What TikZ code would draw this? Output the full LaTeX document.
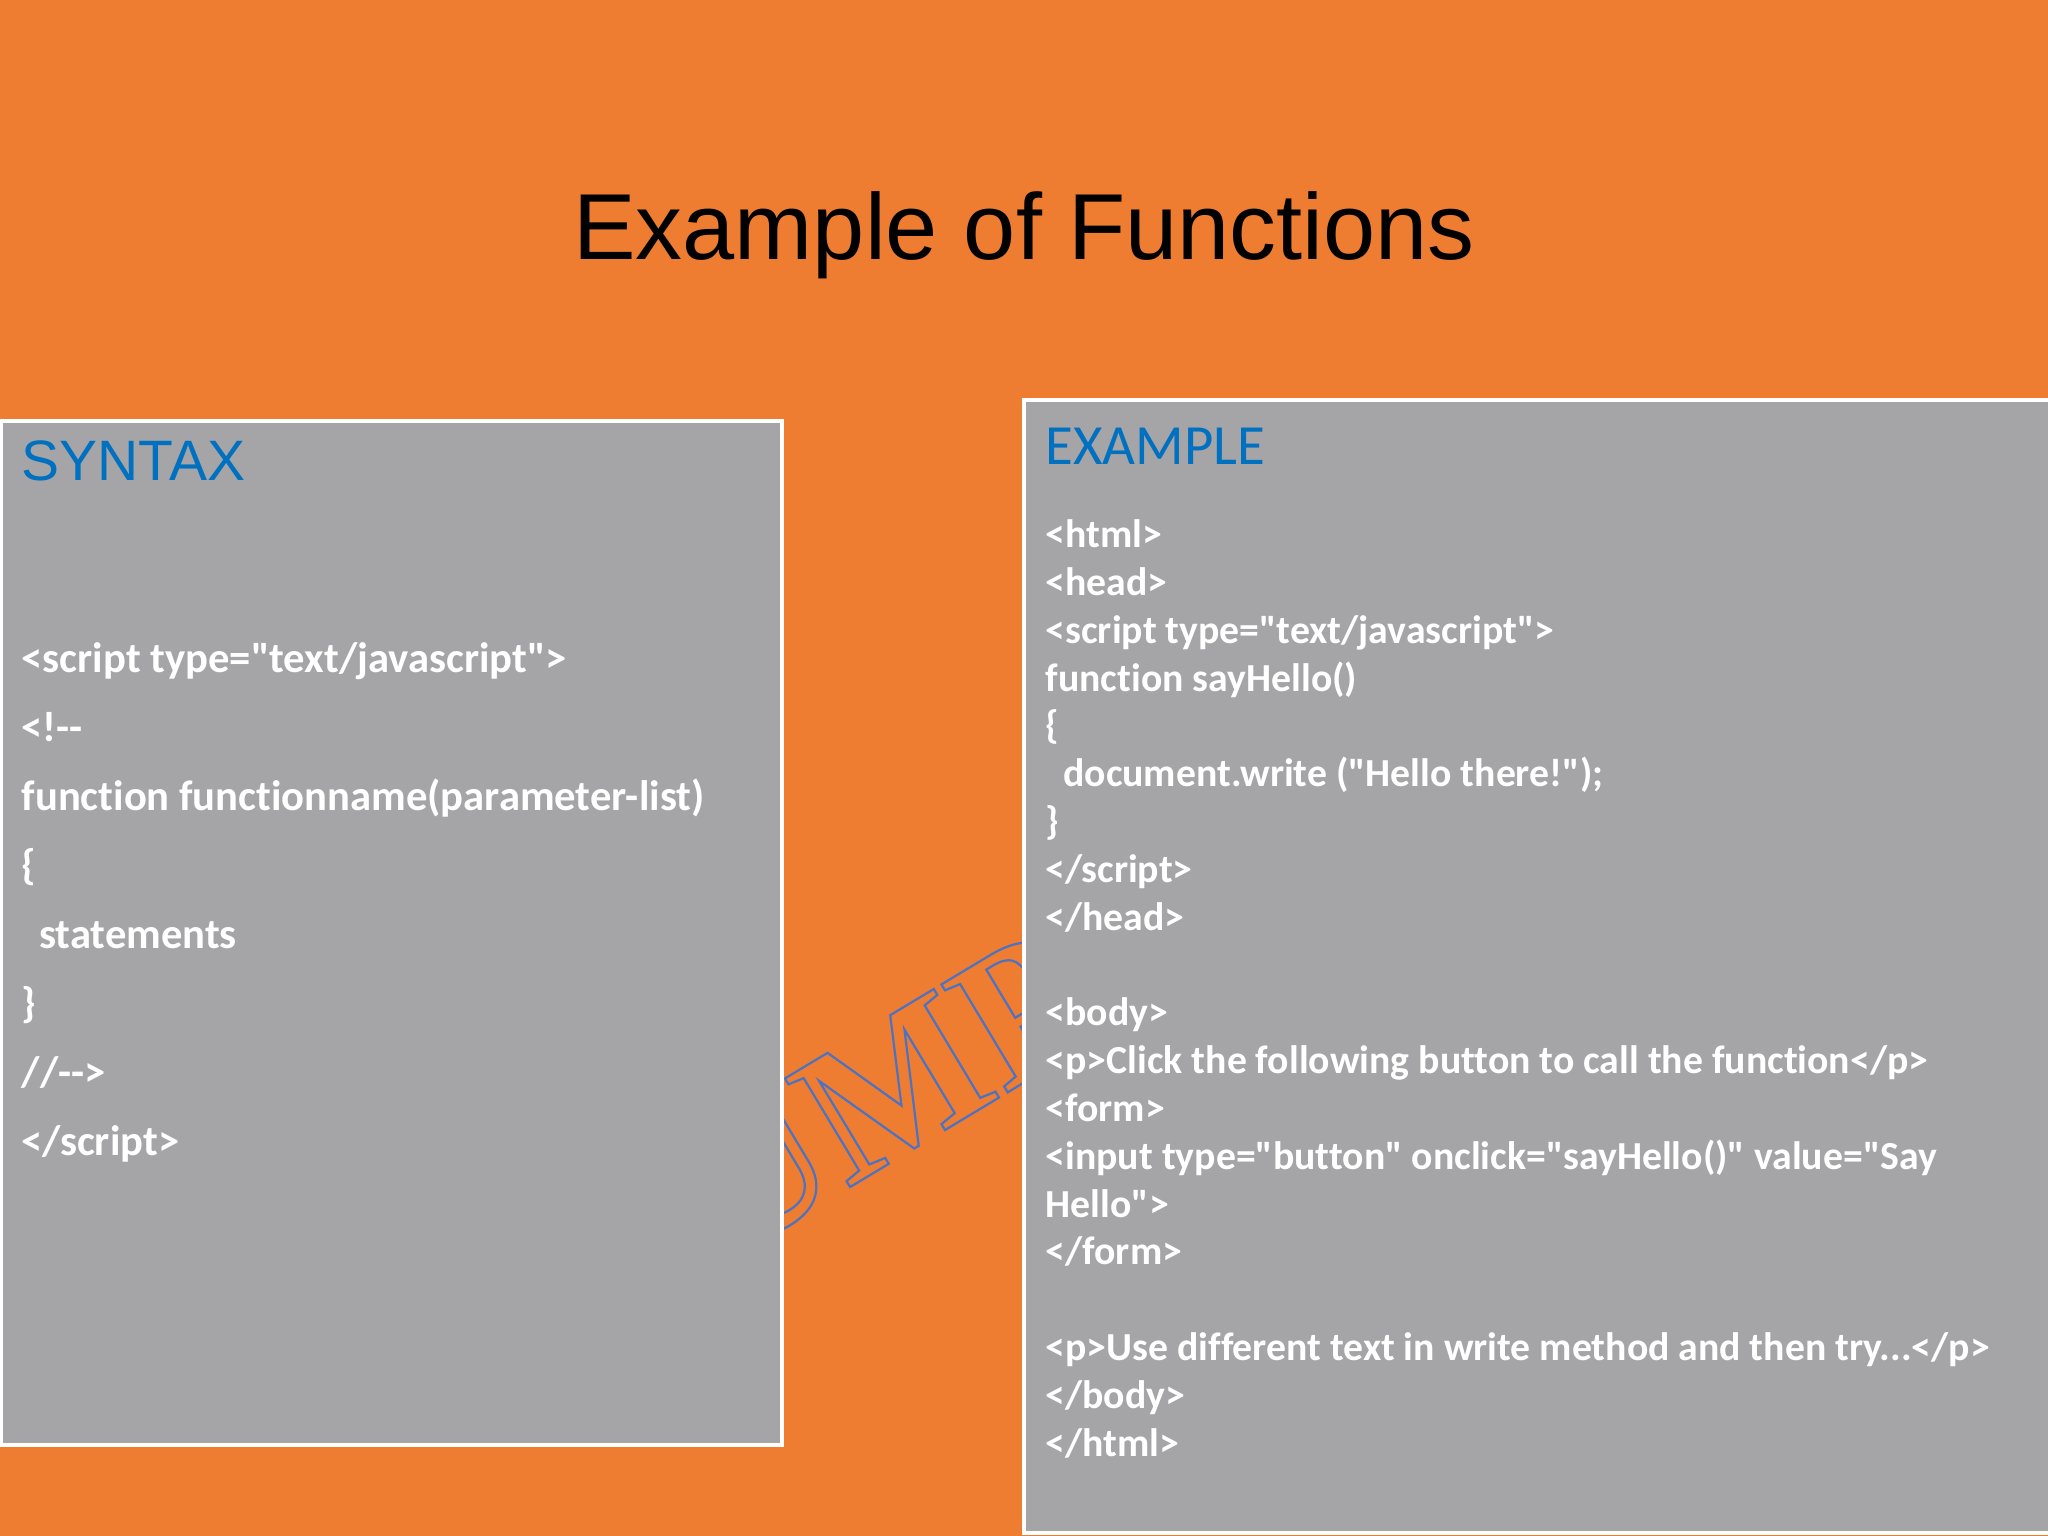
\documentclass[tikz,border=0pt]{standalone}
\usepackage{fontspec}
\setmainfont{Liberation Sans}
\newfontfamily\codefont[Ligatures=NoCommon]{Carlito}
\newfontfamily\markfont{Liberation Serif}
\usepackage{tikz}
\definecolor{slideorange}{HTML}{EE7C31}
\definecolor{panelgray}{HTML}{A5A4A6}
\definecolor{headblue}{HTML}{0070C0}
\tikzset{
	panel/.style={draw=white,line width=1.3pt,fill=panelgray},
	codetext/.style={anchor=north west,align=left,inner sep=0pt,text=white},
}
\begin{document}
\begin{tikzpicture}[x=0.01cm,y=-0.01cm]
		\useasboundingbox (0,0) rectangle (2048,1536);
		\fill[slideorange] (0,0) rectangle (2048,1536);
		\node (title) at (1024,235) {\fontsize{26.65}{31}\selectfont Example of Functions};
		% only the middle of the mark shows between the panels
		\node[rotate=31,anchor=base west,inner sep=0pt] (mark) at (727,1261) {\markfont\bfseries\fontsize{55}{60}\selectfont
			\special{pdf:code 1 Tr 0.62 w 0.29 0.45 0.77 RG}UMP\special{pdf:code 0 Tr 0 0 0 RG}};
		\draw[panel] (1,421) rectangle (782,1445);
		\draw[panel] (1024,400) rectangle (2060,1533);
		\node[anchor=base west,inner sep=0pt,text=headblue] (syntaxhead) at (21,480) {\fontsize{16.2}{20}\selectfont SYNTAX};
		\node[anchor=base west,inner sep=0pt,text=headblue] (examplehead) at (1045,464) {\codefont\fontsize{16.15}{18}\selectfont EXAMPLE};
		\node[codetext,font=\codefont\bfseries\fontsize{12.12}{19.6}\selectfont] (syntaxcode) at (21,642) {
			<script type="text/javascript">\\
			<!-{}-\\
			function functionname(parameter-list)\\
			\{\\
			\hspace*{5pt}statements\\
			\}\\
			//-{}->\\
			</script>};
		\node[codetext,font=\codefont\bfseries\fontsize{11.3}{13.6}\selectfont] (examplecode) at (1045,519) {
			<html>\\
			<head>\\
			<script type="text/javascript">\\
			function sayHello()\\
			\{\\
			\hspace*{5pt}document.write ("Hello there!");\\
			\}\\
			</script>\\
			</head>\\
			\mbox{}\\
			<body>\\
			<p>Click the following button to call the function</p>\\
			<form>\\
			<input type="button" onclick="sayHello()" value="Say\\
			Hello">\\
			</form>\\
			\mbox{}\\
			<p>Use different text in write method and then try...</p>\\
			</body>\\
			</html>};
	\end{tikzpicture}
\end{document}
